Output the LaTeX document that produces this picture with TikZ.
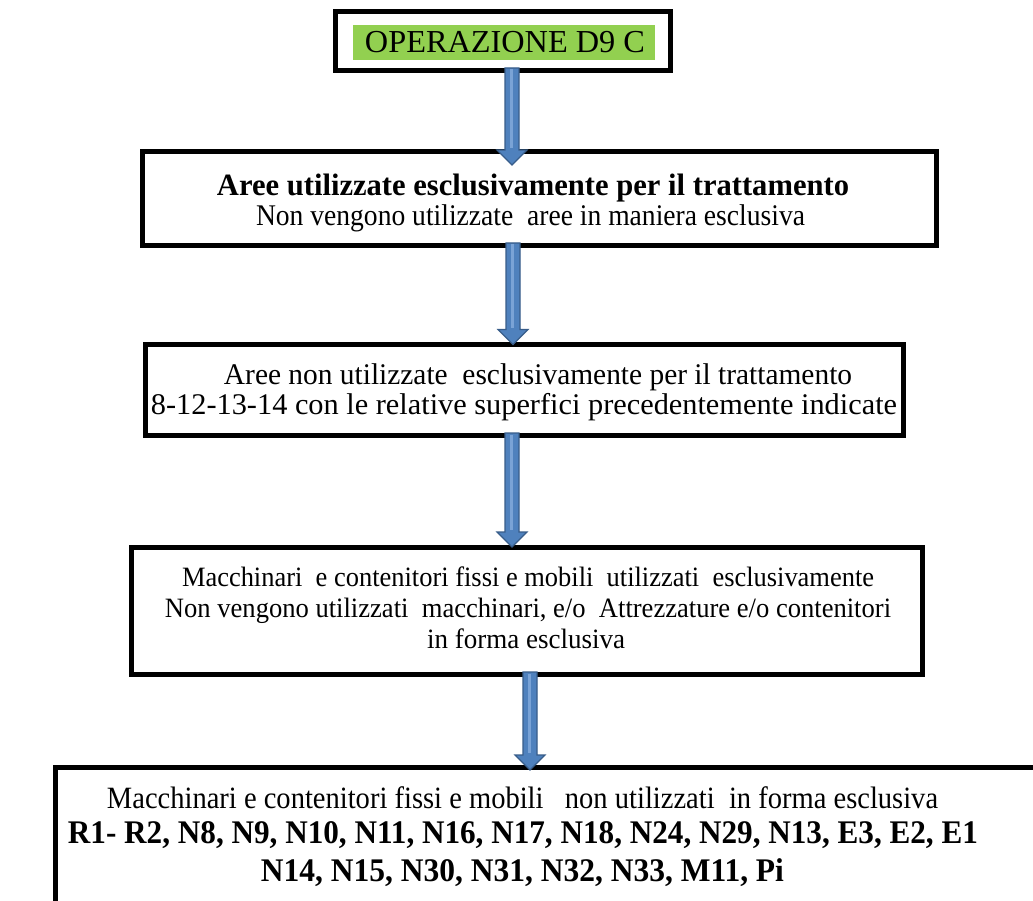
\documentclass[tikz,border=0pt]{standalone}
\usepackage{fontspec}
\setmainfont{Liberation Serif}
\usepackage{graphicx}
\usetikzlibrary{calc}

\definecolor{opgreen}{HTML}{92D050}
\definecolor{arrowfill}{HTML}{4F81BD}
\definecolor{arrowedge}{HTML}{385D8A}
\definecolor{arrowlight}{HTML}{7AA3D6}

% one line of text, set at a given size and fitted to a given width
\newcommand{\fitline}[3]{\resizebox{#1pt}{\height}{\fontsize{#2pt}{#2pt}\selectfont #3}}

% block arrow from the bottom of node #1 to the top of node #2, at x = #3,
% with its tip #4 units below the top of node #2
\newcommand{\flowarrow}[4]{%
  \path[arrowbody] let \p1=(#1.south), \p2=(#2.north) in
    (#3pt-7pt,\y1+2.5pt) -- (#3pt+7pt,\y1+2.5pt) -- (#3pt+7pt,\y2-#4pt+15pt)
    -- (#3pt+15pt,\y2-#4pt+15pt) -- (#3pt,\y2-#4pt) -- (#3pt-15pt,\y2-#4pt+15pt)
    -- (#3pt-7pt,\y2-#4pt+15pt) -- cycle;
  \path[arrowshine] let \p1=(#1.south), \p2=(#2.north) in
    (#3pt-1pt,\y1+1pt) -- (#3pt-1pt,\y2-#4pt+17pt);
}

\begin{document}
\begin{tikzpicture}[x=1pt,y=-1pt,
  box/.style={draw=black, line width=5pt, rectangle, inner sep=0pt, outer sep=0pt, fill=white},
  tag/.style={fill=opgreen, rectangle, inner sep=0pt, outer sep=0pt},
  txt/.style={inner sep=0pt, outer sep=0pt, anchor=base},
  arrowbody/.style={fill=arrowfill, draw=arrowedge, line width=1.2pt, line join=miter},
  arrowshine/.style={draw=arrowlight, line width=3pt}]

\useasboundingbox (0,0) rectangle (1033,901);
\fill[white] (0,0) rectangle (1033,901);

% boxes
\node[box, minimum width=335pt, minimum height=59pt]   (b1) at (502.5,41) {};
\node[box, minimum width=794pt, minimum height=93.5pt] (b2) at (539,198.75) {};
\node[box, minimum width=758pt, minimum height=91pt]   (b3) at (524,390) {};
\node[box, minimum width=791pt, minimum height=127.5pt] (b4) at (526.5,610.75) {};
\node[box, minimum width=990pt, minimum height=173pt]  (b5) at (550,853.5) {};

% green label band of the first box
\node[tag, minimum width=302pt, minimum height=35pt] (band) at (504,42.5) {};

% texts
\node[txt] (t1) at (505,53) {\fitline{280}{32}{OPERAZIONE D9 C}};

\node[txt] (t2a) at (533,196) {\fitline{632}{31}{\bfseries Aree utilizzate esclusivamente per il trattamento}};
\node[txt] (t2b) at (530.5,226) {\fitline{549}{30}{Non vengono utilizzate~ aree in maniera esclusiva}};

\node[txt] (t3a) at (538,384) {\fitline{628}{30}{Aree non utilizzate~ esclusivamente per il trattamento}};
\node[txt] (t3b) at (524,414) {\fitline{746}{30}{8-12-13-14 con le relative superfici precedentemente indicate}};

\node[txt] (t4a) at (528,586) {\fitline{692}{28}{Macchinari~ e contenitori fissi e mobili~ utilizzati~ esclusivamente}};
\node[txt] (t4b) at (528,617) {\fitline{726}{28}{Non vengono utilizzati~ macchinari, e/o~ Attrezzature e/o contenitori}};
\node[txt] (t4c) at (526,648) {\fitline{198}{28}{in forma esclusiva}};

\node[txt] (t5a) at (522.5,808) {\fitline{831}{31}{Macchinari e contenitori fissi e mobili~~ non utilizzati~ in forma esclusiva}};
\node[txt] (t5b) at (523,843) {\fitline{910}{33}{\bfseries R1- R2, N8, N9, N10, N11, N16, N17, N18, N24, N29, N13, E3, E2, E1}};
\node[txt] (t5c) at (522.5,881) {\fitline{523}{33}{\bfseries N14, N15, N30, N31, N32, N33, M11, Pi}};

% connectors
\flowarrow{b1}{b2}{512}{13}
\flowarrow{b2}{b3}{513}{0}
\flowarrow{b3}{b4}{512}{0}
\flowarrow{b4}{b5}{530}{3}

\end{tikzpicture}
\end{document}
